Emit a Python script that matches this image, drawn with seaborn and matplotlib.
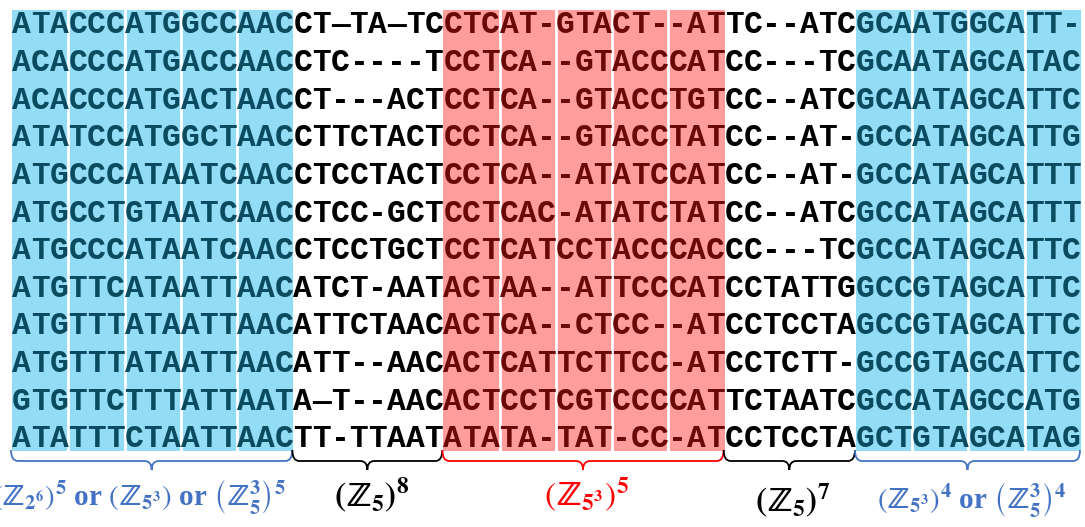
import numpy as np
import pandas as pd
import matplotlib
matplotlib.use('Agg')
import matplotlib.pyplot as plt
import seaborn as sns
from matplotlib.colors import ListedColormap
from matplotlib.path import Path
from matplotlib.patches import PathPatch

# alignment blocks (rows top to bottom)
blue_left = ['ATACCCATGGCCAAC', 'ACACCCATGACCAAC', 'ACACCCATGACTAAC', 'ATATCCATGGCTAAC',
             'ATGCCCATAATCAAC', 'ATGCCTGTAATCAAC', 'ATGCCCATAATCAAC', 'ATGTTCATAATTAAC',
             'ATGTTTATAATTAAC', 'ATGTTTATAATTAAC', 'GTGTTCTTTATTAAT', 'ATATTTCTAATTAAC']
mid_a = ['CT\u2014TA\u2014TC', 'CTC----T', 'CT---ACT', 'CTTCTACT', 'CTCCTACT', 'CTCC-GCT',
         'CTCCTGCT', 'ATCT-AAT', 'ATTCTAAC', 'ATT--AAC', 'A\u2014T--AAC', 'TT-TTAAT']
red_mid = ['CTCAT-GTACT--AT', 'CCTCA--GTACCCAT', 'CCTCA--GTACCTGT', 'CCTCA--GTACCTAT',
           'CCTCA--ATATCCAT', 'CCTCAC-ATATCTAT', 'CCTCATCCTACCCAC', 'ACTAA--ATTCCCAT',
           'ACTCA--CTCC--AT', 'ACTCATTCTTCC-AT', 'ACTCCTCGTCCCCAT', 'ATATA-TAT-CC-AT']
mid_b = ['TC--ATC', 'CC---TC', 'CC--ATC', 'CC--AT-', 'CC--AT-', 'CC--ATC',
         'CC---TC', 'CCTATTG', 'CCTCCTA', 'CCTCTT-', 'TCTAATC', 'CCTCCTA']
blue_right = ['GCAATGGCATT-', 'GCAATAGCATAC', 'GCAATAGCATTC', 'GCCATAGCATTG',
              'GCCATAGCATTT', 'GCCATAGCATTT', 'GCCATAGCATTC', 'GCCGTAGCATTC',
              'GCCGTAGCATTC', 'GCCGTAGCATTC', 'GCCATAGCCATG', 'GCTGTAGCATAG']

segment_kinds = ['blue', 'plain', 'red', 'plain', 'blue']
segment_rows = [blue_left, mid_a, red_mid, mid_b, blue_right]
segment_labels = [
    r'$\left(\mathbb{Z}_{2^6}\right)^5$ or $\left(\mathbb{Z}_{5^3}\right)$ or $\left(\mathbb{Z}_5^3\right)^5$',
    r'$(\mathbb{Z}_5)^8$',
    r'$\left(\mathbb{Z}_{5^3}\right)^5$',
    r'$(\mathbb{Z}_5)^7$',
    r'$\left(\mathbb{Z}_{5^3}\right)^4$ or $\left(\mathbb{Z}_5^3\right)^4$',
]

kind_code = {'plain': 0, 'blue': 1, 'red': 2}
bg_colors = ['#FFFFFF', '#93DCF6', '#FF9C9C']
text_colors = {'plain': '#000000', 'blue': '#0B4B60', 'red': '#6A0808'}
label_colors = {'plain': '#000000', 'blue': '#4472C4', 'red': '#FF0000'}

n_rows = len(blue_left)
widths = [len(s[0]) for s in segment_rows]
starts = np.concatenate([[0], np.cumsum(widths)[:-1]])
n_cols = int(sum(widths))

grid = pd.DataFrame(np.concatenate(
    [np.full((n_rows, w), kind_code[k]) for k, w in zip(segment_kinds, widths)], axis=1))

plt.rcParams['mathtext.fontset'] = 'stix'
plt.rcParams['mathtext.default'] = 'bf'

W, H = 1085, 527
fig = plt.figure(figsize=(W / 100, H / 100), dpi=100)
x0, x1 = 12, 1081

# background blocks
ax_bg = fig.add_axes([x0 / W, 1 - 451 / H, (x1 - x0) / W, 441 / H])
sns.heatmap(grid, ax=ax_bg, cmap=ListedColormap(bg_colors), vmin=-0.5, vmax=2.5,
            cbar=False, xticklabels=False, yticklabels=False)
for k, s, w in zip(segment_kinds, starts, widths):
    if k == 'plain':
        continue
    for b in range(3, w, 3):
        ax_bg.axvline(s + b, color='white', lw=2)
ax_bg.axis('off')

# letters
ax_txt = fig.add_axes([x0 / W, 1 - 456.8 / H, (x1 - x0) / W, 451.6 / H])
ax_txt.set_xlim(0, n_cols)
ax_txt.set_ylim(n_rows, 0)
ax_txt.axis('off')
ax_txt.patch.set_alpha(0)
for k, s, rows in zip(segment_kinds, starts, segment_rows):
    for i, seq in enumerate(rows):
        for j, ch in enumerate(seq):
            ax_txt.text(s + j + 0.5, i + 0.5 + 0.25, ch, ha='center', va='baseline',
                        family='Liberation Mono', weight='bold', fontsize=22.5,
                        color=text_colors[k])

# braces and labels
ax_ann = fig.add_axes([0, 0, 1, 1])
ax_ann.set_xlim(0, W)
ax_ann.set_ylim(H, 0)
ax_ann.axis('off')
ax_ann.patch.set_alpha(0)
cw = (x1 - x0) / n_cols
label_y = [506, 506, 506, 512, 509]
for k, s, w, lab, ly in zip(segment_kinds, starts, widths, segment_labels, label_y):
    xa = x0 + s * cw - 1
    xb = x0 + (s + w) * cw - 1
    xc = (xa + xb) / 2
    y0, y1, y2, r = 450, 461, 470, 7
    verts = [(xa, y0), (xa, y1), (xa + r, y1), (xc - r, y1), (xc, y1), (xc, y2),
             (xc, y1), (xc + r, y1), (xb - r, y1), (xb, y1), (xb, y0)]
    codes = [Path.MOVETO, Path.CURVE3, Path.CURVE3, Path.LINETO, Path.CURVE3, Path.CURVE3,
             Path.CURVE3, Path.CURVE3, Path.LINETO, Path.CURVE3, Path.CURVE3]
    ax_ann.add_patch(PathPatch(Path(verts, codes), fill=False, lw=1.3,
                               edgecolor=label_colors[k]))
    fs = 21 if ' or ' in lab else 24
    if s == 0:
        ax_ann.text(286, ly, lab, ha='right', va='baseline', color=label_colors[k],
                    family='Liberation Serif', weight='bold', fontsize=fs)
    else:
        ax_ann.text(xc + 4, ly, lab, ha='center', va='baseline', color=label_colors[k],
                    family='Liberation Serif', weight='bold', fontsize=fs)

fig.savefig('out.png', dpi=100)
